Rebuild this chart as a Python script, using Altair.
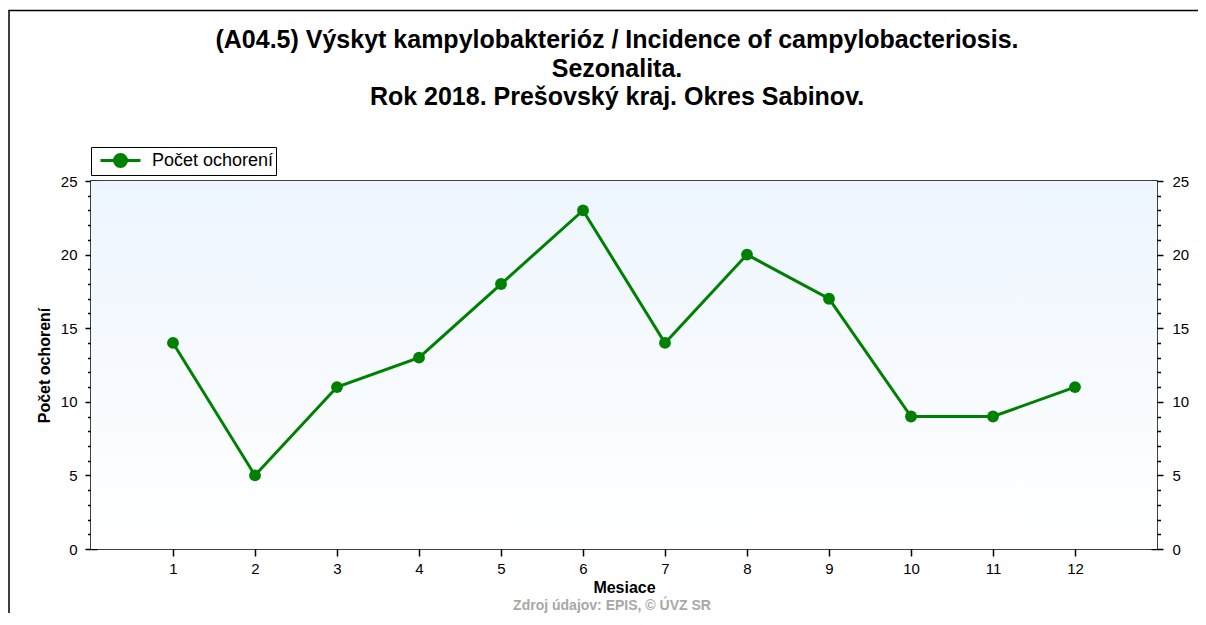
import altair as alt
import pandas as pd

months = list(range(1, 13))
cases = [14, 5, 11, 13, 18, 23, 14, 20, 17, 9, 9, 11]
series_name = "Počet ochorení"
title_lines = [
    "(A04.5) Výskyt kampylobakterióz / Incidence of campylobacteriosis.",
    "Sezonalita.",
    "Rok 2018. Prešovský kraj. Okres Sabinov.",
]
x_title = "Mesiace"
y_title = "Počet ochorení"
source_text = "Zdroj údajov: EPIS, © ÚVZ SR"
y_major = [0, 5, 10, 15, 20, 25]
y_minor = [v for v in range(0, 26) if v % 5 != 0]

W, H = 1066, 368
PAD = {"left": 83, "top": 173, "right": 41, "bottom": 64}
GREEN = "#008000"
FONT = "Liberation Sans"

df = pd.DataFrame({"month": months, "cases": cases, "series": [series_name] * len(months)})
one = pd.DataFrame({"k": [0]})

xscale = alt.Scale(domain=[0, 13], nice=False, zero=False)
yscale = alt.Scale(domain=[0, 25], nice=False)

base = alt.Chart(df)
single = alt.Chart(one)

bg = single.mark_rect(
    color=alt.Gradient(
        gradient="linear",
        stops=[alt.GradientStop(color="#edf5fe", offset=0), alt.GradientStop(color="#ffffff", offset=1)],
        x1=0, x2=0, y1=0, y2=1,
    )
).encode(x=alt.value(0), x2=alt.value(W), y=alt.value(0), y2=alt.value(H))

frame = single.mark_rect(fill=None, stroke="black", strokeWidth=1.5).encode(
    x=alt.value(-PAD["left"] + 1), x2=alt.value(W + PAD["right"] + 20),
    y=alt.value(-PAD["top"] + 2.5), y2=alt.value(H + PAD["bottom"] + 20),
)

title = single.mark_text(
    font=FONT, fontSize=25, fontWeight="bold", color="black", baseline="top",
    align="center", lineHeight=28.5,
).encode(x=alt.value(526), y=alt.value(-153), text=alt.value(title_lines))

legend = alt.Legend(
    title=None, orient="none", legendX=0, legendY=-34,
    strokeColor="black", fillColor="white", padding=2, cornerRadius=0,
    labelFont=FONT, labelFontSize=18, labelColor="black", labelOffset=20,
    symbolType="M-2,0L2,0M-0.6,0A0.6,0.6,0,1,0,0.6,0A0.6,0.6,0,1,0,-0.6,0Z",
    symbolSize=400, symbolOffset=16, symbolStrokeWidth=3,
    symbolFillColor=GREEN, symbolStrokeColor=GREEN,
)

line = base.mark_line(strokeWidth=3).encode(
    x=alt.X("month:Q", scale=xscale, title=x_title,
            axis=alt.Axis(orient="bottom", values=months, tickSize=11, offset=-4, domain=False,
                          tickColor="black", tickWidth=1.5, labelPadding=5, labelFont=FONT,
                          labelFontSize=15, labelColor="black", grid=False,
                          titleFont=FONT, titleFontSize=16, titleFontWeight="bold",
                          titleColor="black", titlePadding=3)),
    y=alt.Y("cases:Q", scale=yscale, title=y_title,
            axis=alt.Axis(orient="left", values=y_major, tickSize=12, offset=-6, domain=False,
                          tickColor="black", tickWidth=1.5, labelPadding=8, labelFont=FONT,
                          labelFontSize=15, labelColor="black", grid=False,
                          titleFont=FONT, titleFontSize=16, titleFontWeight="bold",
                          titleColor="black", titlePadding=8)),
    color=alt.Color("series:N", scale=alt.Scale(domain=[series_name], range=[GREEN]), legend=legend),
)

points = base.mark_point(filled=True, size=140, opacity=1, color=GREEN).encode(
    x=alt.X("month:Q", scale=xscale, title=None,
            axis=alt.Axis(orient="top", values=months, tickSize=7, offset=-7, domain=False,
                          tickColor="black", tickWidth=1.5, labels=False, grid=False)),
    y=alt.Y("cases:Q", scale=yscale, title=None,
            axis=alt.Axis(orient="left", values=y_minor, tickSize=7, offset=-3.5, domain=False,
                          tickColor="black", tickWidth=1.5, labels=False, grid=False)),
)

right_major = base.mark_line(opacity=0).encode(
    x=alt.X("month:Q", scale=xscale, axis=None),
    y=alt.Y("cases:Q", scale=yscale, title=None,
            axis=alt.Axis(orient="right", values=y_major, tickSize=12, offset=-6, domain=False,
                          tickColor="black", tickWidth=1.5, labelPadding=9, labelFont=FONT,
                          labelFontSize=15, labelColor="black", grid=False)),
)

right_minor = base.mark_line(opacity=0).encode(
    x=alt.X("month:Q", scale=xscale, axis=None),
    y=alt.Y("cases:Q", scale=yscale, title=None,
            axis=alt.Axis(orient="right", values=y_minor, tickSize=7, offset=-3.5, domain=False,
                          tickColor="black", tickWidth=1.5, labels=False, grid=False)),
)

source = single.mark_text(font=FONT, fontSize=14, fontWeight="bold", color="#a8a8a8",
                          baseline="bottom").encode(
    x=alt.value(W / 2 - 12), y=alt.value(H + 64), text=alt.value(source_text)
)

chart = (
    alt.layer(bg, frame, title, line, points, right_major, right_minor, source)
    .resolve_axis(x="independent", y="independent")
    .properties(
        width=W, height=H,
        autosize=alt.AutoSizeParams(type="none"),
        padding=PAD,
    )
    .configure_view(stroke="black", strokeWidth=1.5)
)

chart.save("out.html", embed_options={"renderer": "svg", "actions": False})
